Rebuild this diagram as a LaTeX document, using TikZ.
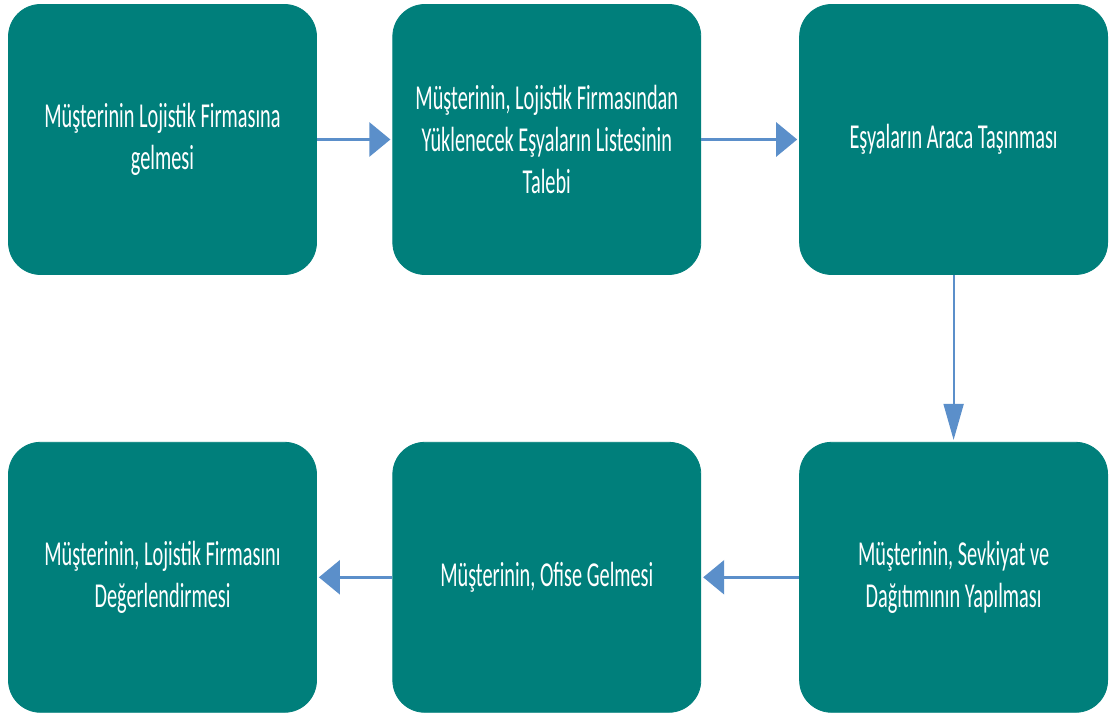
\documentclass[tikz,border=0pt]{standalone}
\usepackage{fontspec}
\usepackage{tikz}
\usetikzlibrary{arrows.meta, positioning}
\newfontfamily\boxfont[FakeStretch=0.58]{Carlito}
\definecolor{kutu}{HTML}{007F7B}
\definecolor{okmavi}{HTML}{5B8FCA}

\begin{document}
\begin{tikzpicture}[x=0.5pt, y=-0.5pt,
    adim/.style={rectangle, rounded corners=16pt, fill=kutu, draw=kutu, text=white, align=center,
        minimum width=154pt, minimum height=135pt, inner sep=0pt,
        font={\boxfont\fontsize{17.5}{21}\selectfont}},
    akis/.style={okmavi, line width=1.3pt, shorten >=1pt, -{Triangle[length=10.5pt, width=17pt]}},
    akisdik/.style={okmavi, line width=1pt, shorten >=1pt, -{Triangle[length=18pt, width=10pt]}}]
    \useasboundingbox (0, 0) rectangle (1110, 715);
    % ust sira, soldan saga
    \node[adim] (b1) at (162.5, 139.5) {Müşterinin Lojistik Firmasına\\gelmesi};
    \node[adim, right=37.75pt of b1] (b2) {Müşterinin, Lojistik Firmasından\\Yüklenecek Eşyaların Listesinin\\Talebi};
    \node[adim, right=49pt of b2] (b3) {Eşyaların Araca Taşınması};
    % alt sira, sagdan sola
    \node[adim, below=83.5pt of b3] (b4) {Müşterinin, Sevkiyat ve\\Dağıtımının Yapılması};
    \node[adim, left=49pt of b4] (b5) {Müşterinin, Ofise Gelmesi};
    \node[adim, left=37.75pt of b5] (b6) {Müşterinin, Lojistik Firmasını\\Değerlendirmesi};
    \draw[akis] (b1) -- (b2);
    \draw[akis] (b2) -- (b3);
    \draw[akisdik] (b3) -- (b4);
    \draw[akis] (b4) -- (b5);
    \draw[akis] (b5) -- (b6);
\end{tikzpicture}
\end{document}
